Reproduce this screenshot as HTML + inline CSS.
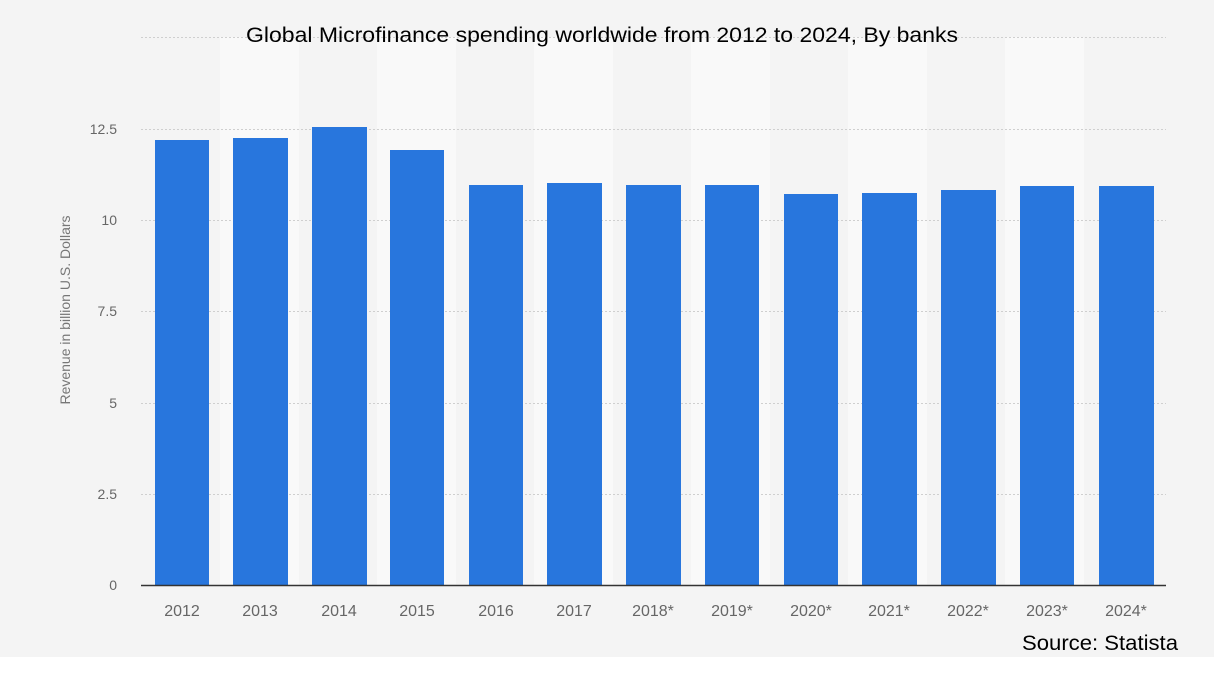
<!DOCTYPE html>
<html><head><meta charset="utf-8"><style>
html,body{margin:0;padding:0;background:#fff}
</style></head><body>
<svg width="1214" height="674" xmlns="http://www.w3.org/2000/svg" style="display:block">
<rect x="0" y="0" width="1214" height="657" fill="#f4f4f4"/>
<g fill="#f9f9f9">
<rect x="220" y="37" width="79" height="548"/>
<rect x="377" y="37" width="79" height="548"/>
<rect x="534" y="37" width="79" height="548"/>
<rect x="691" y="37" width="79" height="548"/>
<rect x="848" y="37" width="79" height="548"/>
<rect x="1005" y="37" width="79" height="548"/>
</g>
<g stroke="#cfcfcf" stroke-width="1" stroke-dasharray="2,2">
<line x1="141" x2="1166" y1="37.5" y2="37.5"/>
<line x1="141" x2="1166" y1="129.5" y2="129.5"/>
<line x1="141" x2="1166" y1="220.5" y2="220.5"/>
<line x1="141" x2="1166" y1="311.5" y2="311.5"/>
<line x1="141" x2="1166" y1="403.5" y2="403.5"/>
<line x1="141" x2="1166" y1="494.5" y2="494.5"/>
</g>
<g fill="#2876dd">
<rect x="155" y="140" width="54" height="445"/>
<rect x="233" y="138" width="55" height="447"/>
<rect x="312" y="127" width="55" height="458"/>
<rect x="390" y="150" width="54" height="435"/>
<rect x="469" y="185" width="54" height="400"/>
<rect x="547" y="183" width="55" height="402"/>
<rect x="626" y="185" width="55" height="400"/>
<rect x="705" y="185" width="54" height="400"/>
<rect x="784" y="194" width="54" height="391"/>
<rect x="862" y="193" width="55" height="392"/>
<rect x="941" y="190" width="55" height="395"/>
<rect x="1020" y="186" width="54" height="399"/>
<rect x="1099" y="186" width="55" height="399"/>
</g>
<line x1="141" x2="1166" y1="585.5" y2="585.5" stroke="#333" stroke-width="1.5"/>
<g font-family="Liberation Sans, sans-serif" font-size="14" fill="#666" text-anchor="end">
<text x="117" y="134">12.5</text>
<text x="117" y="225">10</text>
<text x="117" y="316">7.5</text>
<text x="117" y="408">5</text>
<text x="117" y="499">2.5</text>
<text x="117" y="590">0</text>
</g>
<text transform="translate(70,310) rotate(-90)" font-family="Liberation Sans, sans-serif" font-size="14" fill="#777" text-anchor="middle">Revenue in billion U.S. Dollars</text>
<g font-family="Liberation Sans, sans-serif" font-size="16" fill="#666" text-anchor="middle">
<text x="182" y="616">2012</text>
<text x="260" y="616">2013</text>
<text x="339" y="616">2014</text>
<text x="417" y="616">2015</text>
<text x="496" y="616">2016</text>
<text x="574" y="616">2017</text>
<text x="653" y="616">2018*</text>
<text x="732" y="616">2019*</text>
<text x="811" y="616">2020*</text>
<text x="889" y="616">2021*</text>
<text x="968" y="616">2022*</text>
<text x="1047" y="616">2023*</text>
<text x="1126" y="616">2024*</text>
</g>
<text x="246" y="42" font-family="Liberation Sans, sans-serif" font-size="21" fill="#000" textLength="712" lengthAdjust="spacingAndGlyphs">Global Microfinance spending worldwide from 2012 to 2024, By banks</text>
<text x="1022" y="650" font-family="Liberation Sans, sans-serif" font-size="21" fill="#000" textLength="156" lengthAdjust="spacingAndGlyphs">Source: Statista</text>
</svg>
</body></html>
